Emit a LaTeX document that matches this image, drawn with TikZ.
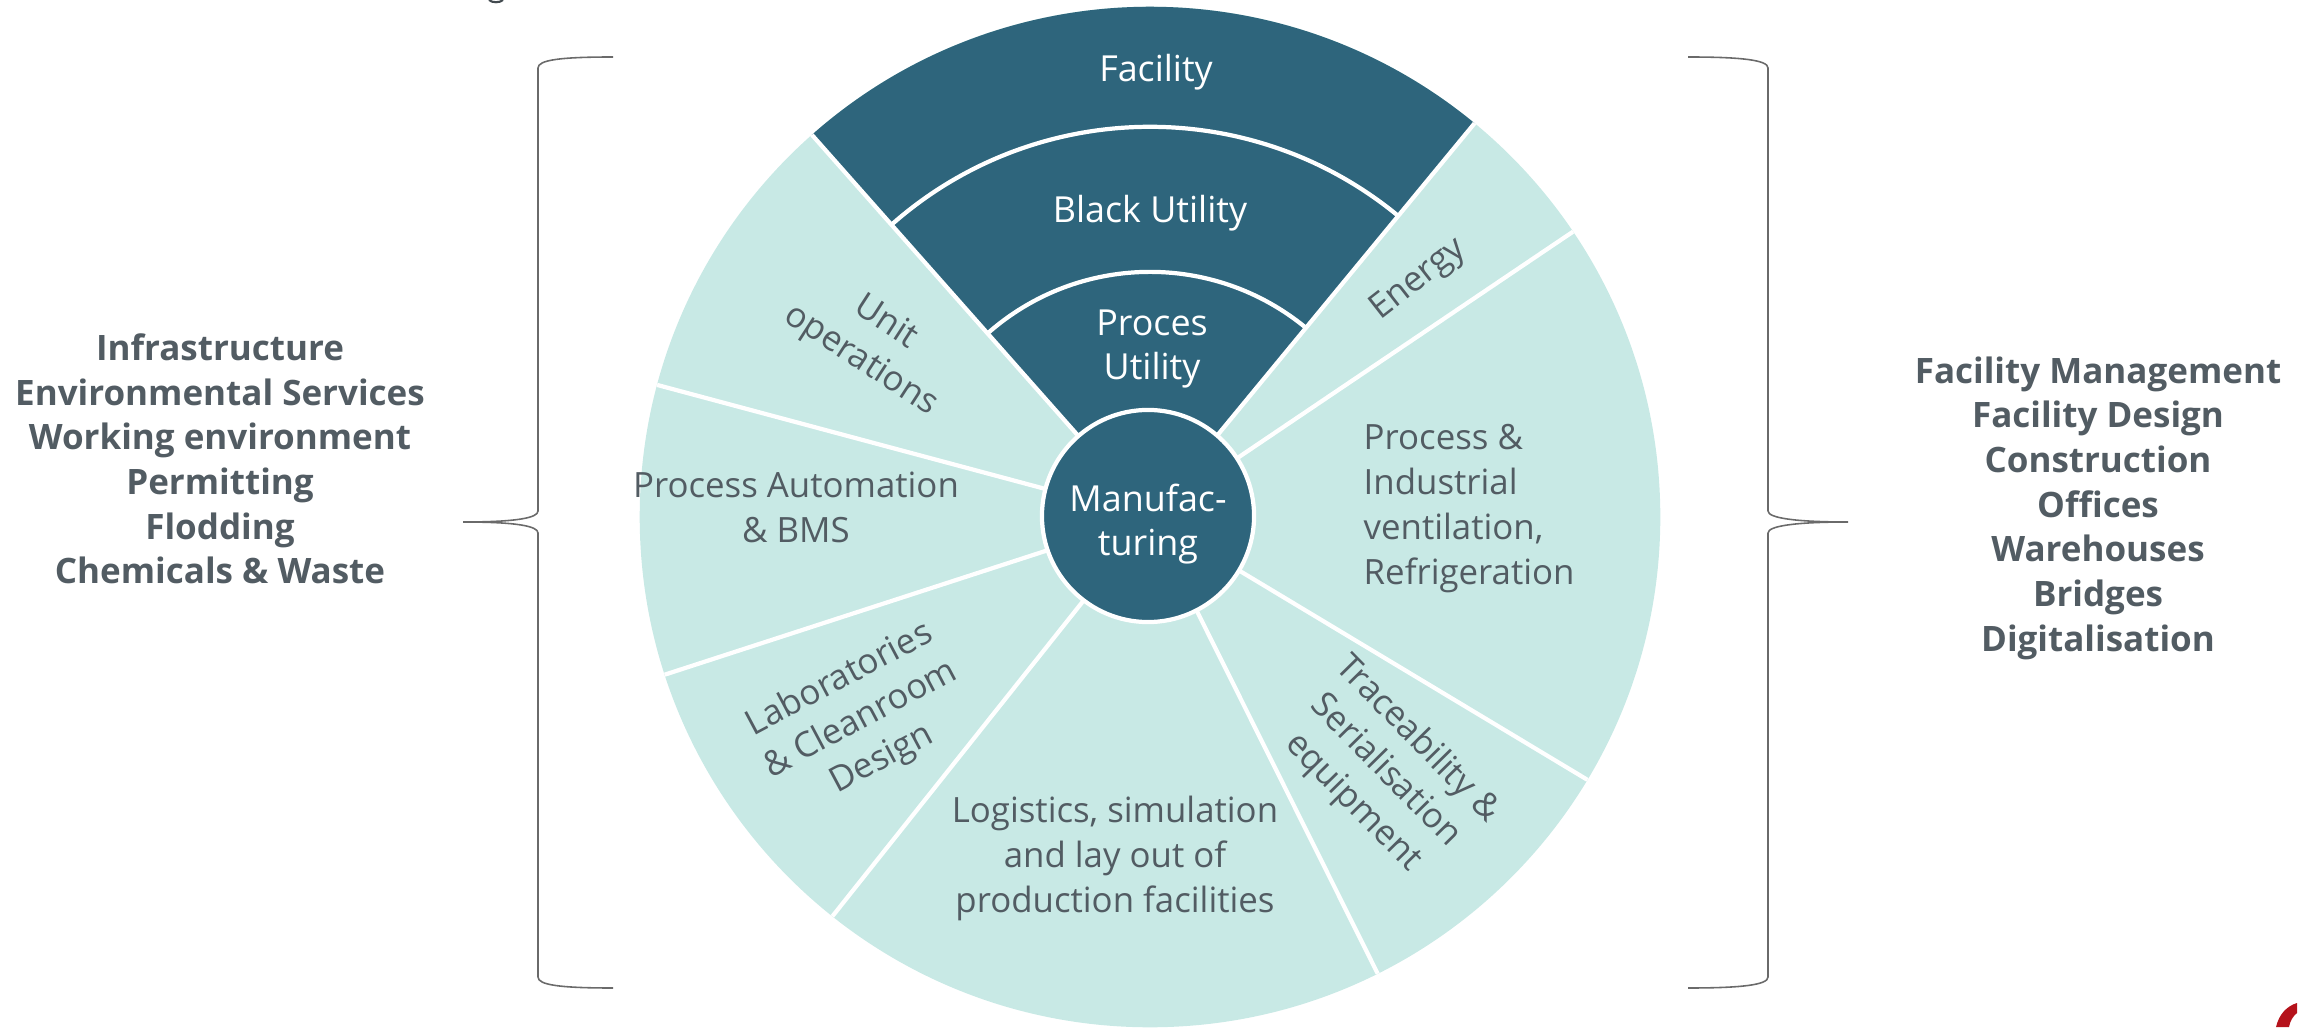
\documentclass[tikz,border=0pt]{standalone}
\usepackage{fontspec}
\setmainfont{Open Sans}
\usetikzlibrary{calc}
\definecolor{teal}{HTML}{2E657C}
\definecolor{mint}{HTML}{C8E9E5}
\definecolor{ink}{HTML}{525C63}
\definecolor{brace}{HTML}{6A6A6A}
\definecolor{logored}{HTML}{B5121B}
\begin{document}
\begin{tikzpicture}[x=0.01cm,y=0.01cm,
  sep/.style={draw=white,line width=1.2pt},
  white text/.style={text=white,align=center,inner sep=0pt,font={\fontsize{10.2}{12.6}\selectfont}},
  grey text/.style={text=ink,align=center,inner sep=0pt,font={\fontsize{9.9}{12.8}\selectfont}},
  list text/.style={text=ink,align=center,inner sep=0pt,font={\fontsize{9.95}{12.7}\selectfont\bfseries}},
  bracestroke/.style={draw=brace,line width=0.45pt}]
\useasboundingbox (0,0) rectangle (2307,1027);
\coordinate (C) at (1150,510);

% outer disc
\fill[mint] (C) circle[radius=5.1cm];
% utility sector
\fill[teal] (C) -- ++(50.5:5.1cm) arc[start angle=50.5,end angle=131.5,radius=5.1cm] -- cycle;

% radial separators
\foreach \a in {34,50.5,131.5,165,198,231.5,296.5,329}
  \draw[sep] (C) -- ++(\a:5.1cm);
% ring separators inside the utility sector
\draw[sep] ($(C)+(50.5:3.9cm)$) arc[start angle=50.5,end angle=131.5,radius=3.9cm];
\draw[sep] ($(C)+(50.5:2.45cm)$) arc[start angle=50.5,end angle=131.5,radius=2.45cm];

% hub
\node[circle,fill=teal,draw=white,line width=1.2pt,minimum size=2.12cm,inner sep=0pt] (hub) at (1148,511) {};
\node[white text] (manu) at (1148,503) {Manufac-\\turing};

% utility rings
\node[white text] (facility) at (1156,955) {Facility};
\node[white text] (black) at (1150,814) {Black Utility};
\node[white text] (proces) at (1152,678) {Proces\\Utility};

% outer segments
\node[grey text,rotate=-33] (unit) at (873,685) {Unit\\operations};
\node[grey text,rotate=38] (energy) at (1419,747) {Energy};
\node[grey text,align=left,anchor=west] (vent) at (1363,518) {Process \&\\Industrial\\ventilation,\\Refrigeration};
\node[grey text,rotate=-45.5] (trace) at (1385,256) {Traceability \&\\Serialisation\\equipment};
\node[grey text] (logi) at (1115,169) {Logistics, simulation\\and lay out of\\production facilities};
\node[grey text,rotate=28] (lab) at (861,307) {Laboratories\\\& Cleanroom\\Design};
\node[grey text] (auto) at (796,520) {Process Automation\\\& BMS};

% side lists
\node[list text] (left) at (220,568) {Infrastructure\\Environmental Services\\Working environment\\Permitting\\Flodding\\Chemicals \& Waste};
\node[list text] (right) at (2098,519) {Facility Management\\Facility Design\\Construction\\Offices\\Warehouses\\Bridges\\Digitalisation};

% braces
\draw[bracestroke] (613,970) .. controls (560,970) and (538,967) .. (538,959)
  -- (538,516) .. controls (538,509) and (516,505) .. (463,505)
  .. controls (516,505) and (538,501) .. (538,494)
  -- (538,50) .. controls (538,42) and (560,39) .. (613,39);
\draw[bracestroke] (1688,970) .. controls (1741,970) and (1768,967) .. (1768,959)
  -- (1768,516) .. controls (1768,509) and (1795,505) .. (1848,505)
  .. controls (1795,505) and (1768,501) .. (1768,494)
  -- (1768,50) .. controls (1768,42) and (1741,39) .. (1688,39);

% corner fragments
\fill[logored] (2276,0) .. controls (2279,13) and (2287,21) .. (2297,24) -- (2297,14)
  .. controls (2293,11) and (2290,6) .. (2289,0) -- cycle;
\draw[line width=0.6pt,draw=ink!80!black] (489,1027) .. controls (492,1024) and (500,1024) .. (503,1027);
\end{tikzpicture}
\end{document}
